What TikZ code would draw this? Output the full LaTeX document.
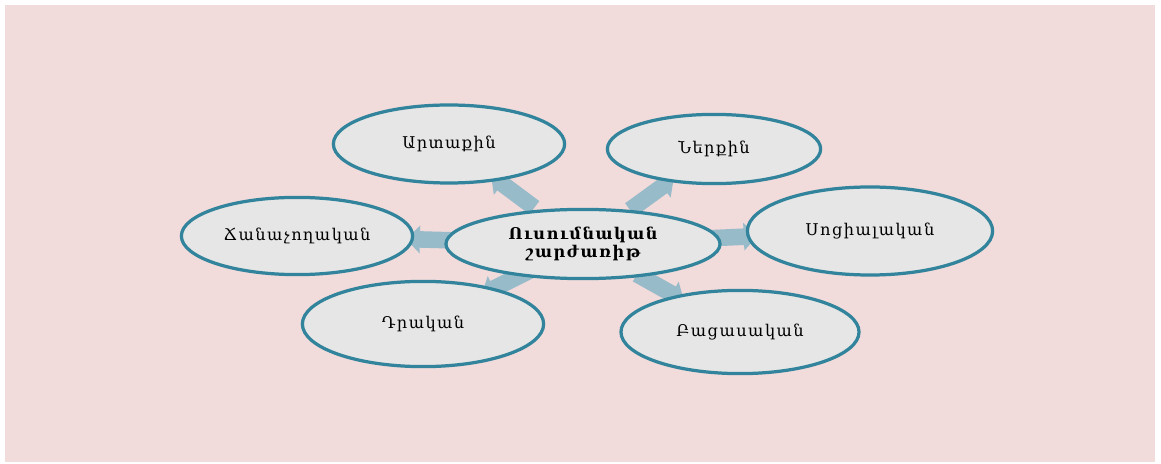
\documentclass[tikz,border=0pt]{standalone}
\usepackage{fontspec}
\setmainfont{DejaVu Serif}
\newfontfamily\armfont[LetterSpace=9]{DejaVu Serif}
\usetikzlibrary{shapes.geometric,shapes.arrows,calc,backgrounds}
\definecolor{pagecolor}{RGB}{241,219,219}
\definecolor{ovalcolor}{RGB}{230,230,230}
\definecolor{rimcolor}{RGB}{49,132,155}
\definecolor{arrowcolor}{RGB}{152,187,202}

\begin{document}
\begin{tikzpicture}[
    x=0.025cm, y=-0.025cm,
    oval/.style={ellipse, draw=rimcolor, line width=2.3pt, fill=ovalcolor, inner sep=0pt, text centered, font=\armfont\fontsize{11.5}{13}\selectfont},
    hub/.style={oval, align=center, font=\armfont\fontsize{11.5}{12.5}\selectfont\bfseries},
    blockarrow/.style={single arrow, fill=arrowcolor, draw=none, inner sep=0.2cm, single arrow head extend=0.14cm, minimum height=1.35cm}
]

% Page
\useasboundingbox (0,0) rectangle (1161,464);
\begin{scope}[on background layer]
\fill[white] (0,0) rectangle (1161,464);
\fill[pagecolor] (5,5) rectangle (1155,462);
\end{scope}

% Centre
\node[hub, minimum width=6.85cm, minimum height=1.73cm] (motive) at (583,244) {Ուսումնական\\շարժառիթ};

% Kinds of motive
\node[oval, minimum width=5.78cm, minimum height=1.95cm] (external) at (449,144) {Արտաքին};
\node[oval, minimum width=5.33cm, minimum height=1.73cm] (internal) at (714,149) {Ներքին};
\node[oval, minimum width=5.78cm, minimum height=1.93cm] (cognitive) at (297,236) {Ճանաչողական};
\node[oval, minimum width=6.13cm, minimum height=2.2cm] (social) at (870,231) {Սոցիալական};
\node[oval, minimum width=6.03cm, minimum height=2.13cm] (positive) at (423,324) {Դրական};
\node[oval, minimum width=5.95cm, minimum height=2.08cm] (negative) at (740,332) {Բացասական};

% Arrows
\begin{scope}[on background layer]
\foreach \kind/\pos in {external/0.5, internal/0.5, cognitive/0.51, social/0.5, positive/0.46, negative/0.47}
  \path let \p1 = ($(\kind)-(motive)$), \n1 = {atan2(\y1,\x1)} in
    node[blockarrow, rotate=\n1] (arrow-\kind) at ($(motive)!\pos!(\kind)$) {};
\end{scope}

\end{tikzpicture}
\end{document}
